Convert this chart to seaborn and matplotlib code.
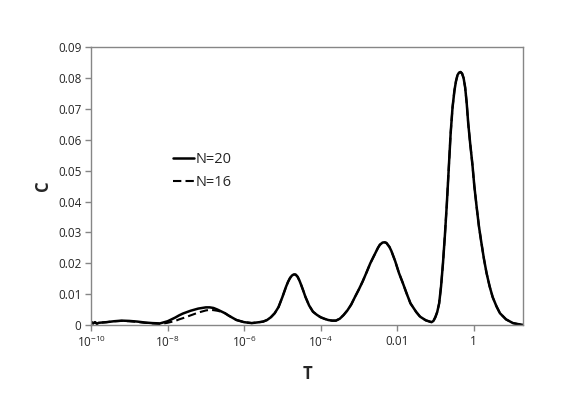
import numpy as np
import pandas as pd
import seaborn as sns
import matplotlib.pyplot as plt

# log10(T) and C
logT = [-10.0, -9.95, -9.9, -9.85, -9.8, -9.6, -9.4, -9.2, -9.0, -8.8, -8.6, -8.4,
        -8.2, -8.0, -7.9, -7.8, -7.7, -7.6, -7.4, -7.2, -7.0, -6.9, -6.8, -6.7,
        -6.6, -6.5, -6.4, -6.3, -6.2, -6.0, -5.8, -5.6, -5.5, -5.4, -5.3, -5.2,
        -5.1, -5.0, -4.9, -4.85, -4.8, -4.75, -4.7, -4.65, -4.6, -4.55, -4.5, -4.45,
        -4.4, -4.3, -4.2, -4.1, -4.0, -3.9, -3.8, -3.7, -3.6, -3.5, -3.4, -3.3,
        -3.2, -3.1, -3.0, -2.9, -2.8, -2.7, -2.6, -2.5, -2.45, -2.38, -2.33, -2.28,
        -2.2, -2.15, -2.05, -1.95, -1.85, -1.75, -1.65, -1.5, -1.4, -1.25, -1.1, -1.05,
        -1.0, -0.95, -0.9, -0.85, -0.8, -0.75, -0.7, -0.65, -0.6, -0.55, -0.5, -0.46,
        -0.42, -0.38, -0.34, -0.3, -0.26, -0.22, -0.18, -0.14, -0.09, -0.03, 0.02, 0.08,
        0.14, 0.2, 0.27, 0.34, 0.42, 0.5, 0.6, 0.69, 0.85, 1.03, 1.15, 1.3]

C_20 = [0.0010, 0.0005, 0.0009, 0.0004, 0.0007, 0.0009, 0.0012, 0.0014, 0.0013, 0.0011, 0.0008, 0.0006,
        0.0005, 0.0012, 0.0018, 0.0024, 0.0031, 0.0037, 0.0046, 0.0053, 0.0057, 0.0057, 0.0055, 0.0050,
        0.0044, 0.0038, 0.0030, 0.0023, 0.0016, 0.0009, 0.0006, 0.0009, 0.0011, 0.0016, 0.0025, 0.0038,
        0.0058, 0.0090, 0.0125, 0.0140, 0.0152, 0.0160, 0.0164, 0.0163, 0.0156, 0.0143, 0.0127, 0.0110,
        0.0092, 0.0063, 0.0043, 0.0033, 0.0025, 0.0020, 0.0016, 0.0014, 0.0014, 0.0020, 0.0032, 0.0047,
        0.0066, 0.0091, 0.0115, 0.0141, 0.0170, 0.0200, 0.0225, 0.0250, 0.0260, 0.0267, 0.0268, 0.0266,
        0.0253, 0.0240, 0.0207, 0.0168, 0.0136, 0.0102, 0.0070, 0.0042, 0.0027, 0.0015, 0.0009, 0.0013,
        0.0025, 0.0042, 0.0070, 0.0125, 0.0200, 0.0290, 0.0390, 0.0505, 0.0620, 0.0705, 0.0760, 0.0790,
        0.0810, 0.0818, 0.0820, 0.0815, 0.0800, 0.0770, 0.0720, 0.0654, 0.0590, 0.0520, 0.0450, 0.0383,
        0.0320, 0.0270, 0.0215, 0.0168, 0.0125, 0.0090, 0.0060, 0.0038, 0.0018, 0.0006, 0.0003, 0.0000]

# N=16 only differs at low T, the rest sits on top of N=20
C_16 = [0.0010, 0.0005, 0.0009, 0.0004, 0.0007, 0.0009, 0.0012, 0.0013, 0.0012, 0.0010, 0.0007, 0.0005,
        0.0003, 0.0007, 0.0010, 0.0013, 0.0018, 0.0022, 0.0031, 0.0040, 0.0047, 0.0049, 0.0048, 0.0046,
        0.0043, 0.0038] + C_20[26:]

xticks = [1e-10, 1e-8, 1e-6, 1e-4, 1e-2, 1]
xticklabels = ['10$^{-10}$', '10$^{-8}$', '10$^{-6}$', '10$^{-4}$', '0.01', '1']
yticks = [0, 0.01, 0.02, 0.03, 0.04, 0.05, 0.06, 0.07, 0.08, 0.09]
yticklabels = ['0', '0.01', '0.02', '0.03', '0.04', '0.05', '0.06', '0.07', '0.08', '0.09']

df20 = pd.DataFrame({'T': 10 ** np.array(logT), 'C': C_20})
df16 = pd.DataFrame({'T': 10 ** np.array(logT), 'C': C_16})

sns.set_style('white')
plt.rcParams['font.family'] = ['Open Sans', 'DejaVu Sans']
plt.rcParams['mathtext.default'] = 'regular'

fig = plt.figure(figsize=(5.88, 4.15), dpi=100)
ax = fig.add_axes([0.155, 0.217, 0.735, 0.669])

sns.lineplot(data=df20, x='T', y='C', color='black', lw=1.8, label='N=20', ax=ax)
sns.lineplot(data=df16, x='T', y='C', color='black', lw=1.5, label='N=16', ax=ax)
ax.lines[1].set_dashes((4, 2))

ax.set_xscale('log')
ax.set_xlim(1e-10, 20)
ax.set_ylim(0, 0.09)
ax.set_xticks(xticks)
ax.set_xticklabels(xticklabels)
ax.minorticks_off()
ax.set_yticks(yticks)
ax.set_yticklabels(yticklabels)
ax.tick_params(axis='both', which='major', direction='out', length=4, width=1,
               color='#868686', labelsize=8.5, pad=3, bottom=True, left=True)

for s in ax.spines.values():
    s.set_color('#868686')
    s.set_linewidth(1)

ax.set_xlabel('T', fontsize=12, fontweight='bold', labelpad=11)
ax.set_ylabel('C', fontsize=12, fontweight='bold', labelpad=4)

ax.legend(loc='upper left', bbox_to_anchor=(0.16, 0.67), frameon=False, fontsize=10.5,
          handlelength=1.4, handletextpad=0.15, labelspacing=0.55)

plt.savefig('out.png', dpi=100)
